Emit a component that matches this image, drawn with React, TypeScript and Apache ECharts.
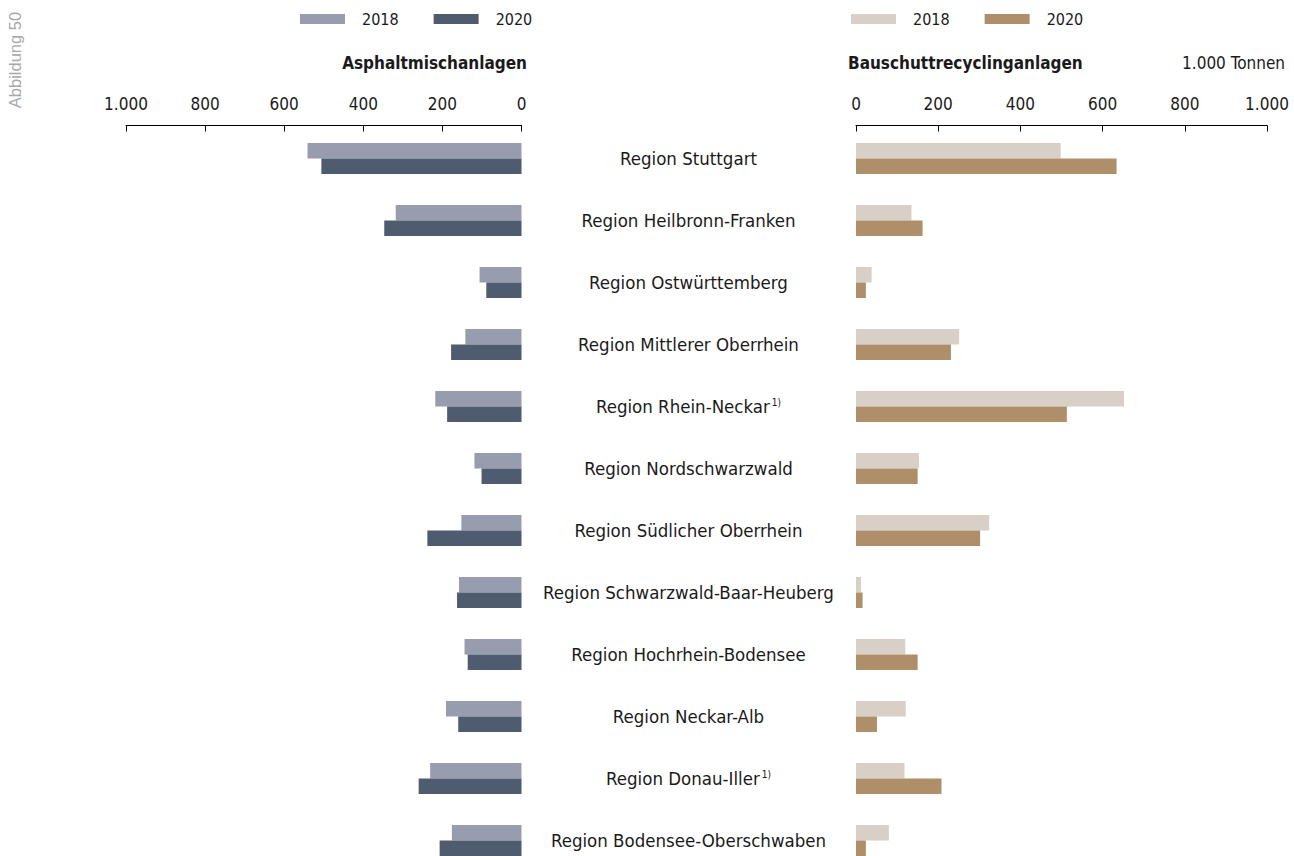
import React, { useEffect, useRef } from "react";
import * as echarts from "echarts";

const categories = [
  "Region Stuttgart",
  "Region Heilbronn-Franken",
  "Region Ostwürttemberg",
  "Region Mittlerer Oberrhein",
  "Region Rhein-Neckar",
  "Region Nordschwarzwald",
  "Region Südlicher Oberrhein",
  "Region Schwarzwald-Baar-Heuberg",
  "Region Hochrhein-Bodensee",
  "Region Neckar-Alb",
  "Region Donau-Iller",
  "Region Bodensee-Oberschwaben",
];
const footnoted = ["Region Rhein-Neckar", "Region Donau-Iller"];

const asphalt2018 = [541, 318, 106, 142, 218, 119, 152, 158, 144, 191, 231, 176];
const asphalt2020 = [506, 347, 89, 178, 188, 101, 238, 163, 136, 160, 260, 207];
const bauschutt2018 = [498, 135, 38, 251, 652, 153, 324, 12, 120, 121, 118, 80];
const bauschutt2020 = [634, 162, 24, 231, 513, 150, 302, 16, 150, 51, 208, 24];

const axisTicks = [0, 200, 400, 600, 800, 1000];

const FONT = "'Liberation Sans Narrow', 'DejaVu Sans Condensed', 'Roboto Condensed', 'Liberation Sans', sans-serif";
const TXT = "#1a1a1a";
const C_A18 = "#979caf";
const C_A20 = "#4f5b6e";
const C_B18 = "#d8cfc6";
const C_B20 = "#ae8f69";

const fmt = (v: number) => (v >= 1000 ? String(v).replace(/(\d)(?=(\d{3})+$)/g, "$1.") : String(v));

export default function App() {
  const ref = useRef<HTMLDivElement>(null);
  useEffect(() => {
    document.body.style.margin = "0";
    const chart = echarts.init(ref.current!, undefined, { renderer: "svg" });
    const xAxisBase = (gridIndex: number, inverse: boolean) => ({
      type: "value" as const,
      gridIndex,
      position: "top" as const,
      inverse,
      min: axisTicks[0],
      max: axisTicks[axisTicks.length - 1],
      interval: 200,
      offset: 2,
      splitLine: { show: false },
      axisLine: { show: true, lineStyle: { color: "#000", width: 1 } },
      axisTick: { show: true, inside: true, length: 6, lineStyle: { color: "#000" } },
      axisLabel: { fontFamily: FONT, fontSize: 17, color: TXT, margin: 13, formatter: fmt },
    });
    const yAxisBase = (gridIndex: number, showLabels: boolean) => ({
      type: "category" as const,
      gridIndex,
      data: categories,
      inverse: true,
      position: "right" as const,
      axisLine: { show: false },
      axisTick: { show: false },
      axisLabel: showLabels
        ? {
            show: true,
            align: "center" as const,
            margin: 167,
            fontFamily: FONT,
            fontSize: 18.5,
            color: TXT,
            formatter: (v: string) => (footnoted.includes(v) ? `{n|${v}}{s|1)}` : `{n|${v}}`),
            rich: {
              n: { fontFamily: FONT, fontSize: 18.5, color: TXT },
              s: { fontFamily: FONT, fontSize: 10, color: TXT, padding: [0, 0, 8, 2] },
            },
          }
        : { show: false },
    });
    const legendBase = (left: number, data: string[]) => ({
      left,
      top: 11,
      data,
      icon: "rect",
      itemWidth: 45,
      itemHeight: 10,
      itemGap: 35,
      padding: 0,
      selectedMode: false,
      formatter: (n: string) => n.slice(1),
      textStyle: { fontFamily: FONT, fontSize: 16, color: TXT, padding: [0, 0, 0, 12] },
    });
    chart.setOption({
      animation: false,
      legend: [legendBase(300, ["A2018", "A2020"]), legendBase(851, ["B2018", "B2020"])],
      grid: [
        { left: 126, width: 395.5, top: 127.5, height: 744 },
        { left: 856, width: 411, top: 127.5, height: 744 },
      ],
      xAxis: [xAxisBase(0, true), xAxisBase(1, false)],
      yAxis: [yAxisBase(0, true), { ...yAxisBase(1, false), position: "left" }],
      series: [
        { name: "A2018", type: "bar", xAxisIndex: 0, yAxisIndex: 0, data: asphalt2018, barWidth: 15.5, barGap: "0%", itemStyle: { color: C_A18 } },
        { name: "A2020", type: "bar", xAxisIndex: 0, yAxisIndex: 0, data: asphalt2020, barWidth: 15.5, barGap: "0%", itemStyle: { color: C_A20 } },
        { name: "B2018", type: "bar", xAxisIndex: 1, yAxisIndex: 1, data: bauschutt2018, barWidth: 15.5, barGap: "0%", itemStyle: { color: C_B18 } },
        { name: "B2020", type: "bar", xAxisIndex: 1, yAxisIndex: 1, data: bauschutt2020, barWidth: 15.5, barGap: "0%", itemStyle: { color: C_B20 } },
      ],
      graphic: [
        {
          type: "text",
          x: 527,
          y: 63,
          style: { text: "Asphaltmischanlagen", fontFamily: FONT, fontSize: 17, fontWeight: "bold", fill: TXT, align: "right", verticalAlign: "middle" },
        },
        {
          type: "text",
          x: 848,
          y: 63,
          style: { text: "Bauschuttrecyclinganlagen", fontFamily: FONT, fontSize: 17, fontWeight: "bold", fill: TXT, align: "left", verticalAlign: "middle" },
        },
        {
          type: "text",
          x: 1285,
          y: 63,
          style: { text: "1.000 Tonnen", fontFamily: FONT, fontSize: 17, fill: TXT, align: "right", verticalAlign: "middle" },
        },
        {
          type: "text",
          x: 15,
          y: 60,
          rotation: Math.PI / 2,
          style: { text: "Abbildung 50", fontFamily: "'Liberation Sans', 'DejaVu Sans', sans-serif", fontSize: 16.5, fill: "#a8a8a8", align: "center", verticalAlign: "middle" },
        },
      ],
    });
    return () => chart.dispose();
  }, []);
  return (
    <div style={{ width: 1294, height: 856, overflow: "hidden" }}>
      <div ref={ref} style={{ width: 1294, height: 880 }} />
    </div>
  );
}
